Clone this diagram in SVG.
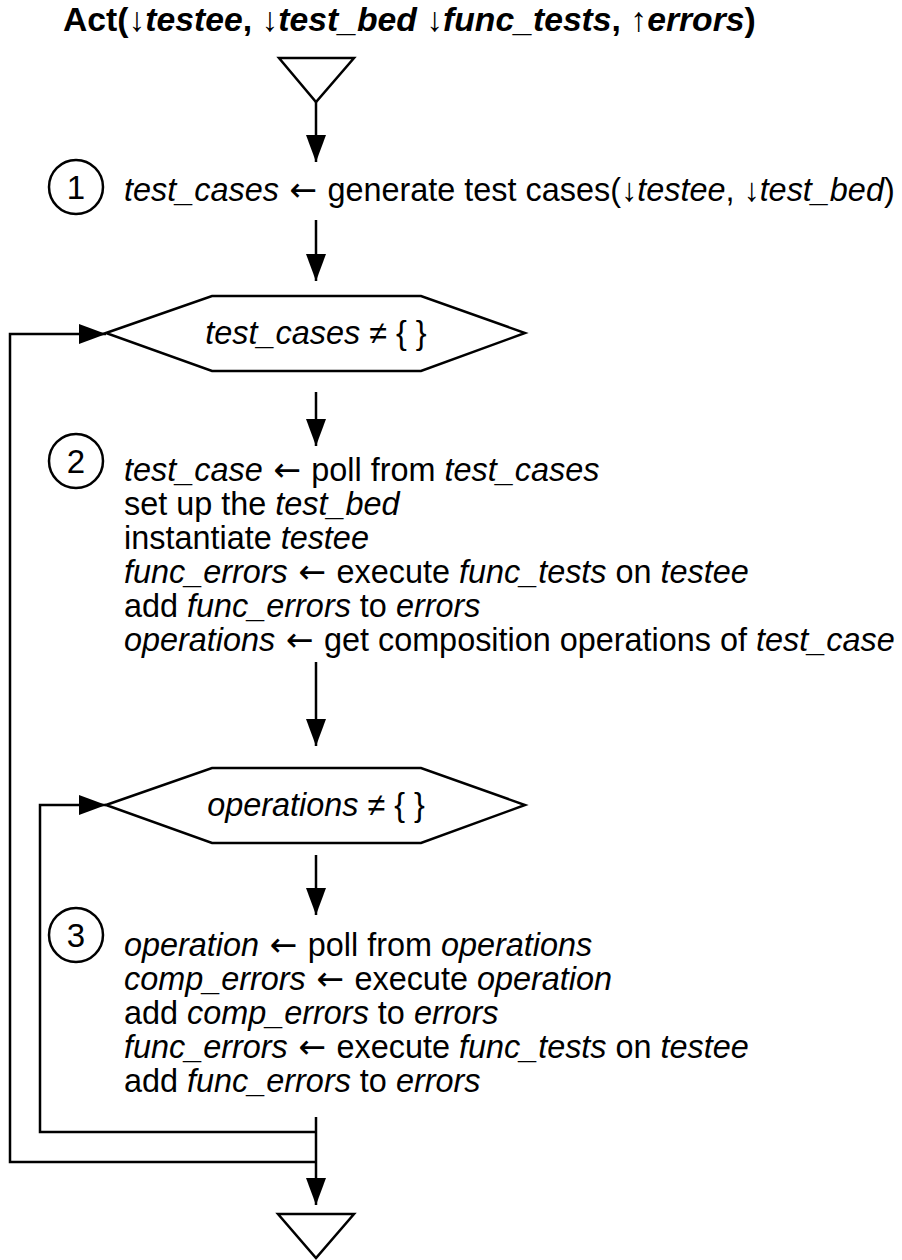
<svg xmlns="http://www.w3.org/2000/svg" width="902" height="1260" viewBox="0 0 902 1260">
  <style>
    .shape { fill: none; stroke: #000; stroke-width: 2.5; stroke-linejoin: miter; }
    .wire { fill: none; stroke: #000; stroke-width: 2.5; }
    .txt { font-family: "Liberation Sans", Arial, Helvetica, sans-serif; font-size: 32.4px; fill: #000; }
    .head { font-family: "Liberation Sans", Arial, Helvetica, sans-serif; font-size: 33.7px; font-weight: bold; fill: #000; }
    .num { font-family: "Liberation Sans", Arial, Helvetica, sans-serif; font-size: 33px; fill: #000; text-anchor: middle; }
    .i { font-style: italic; }
    /* assignment arrow between target and expression */
    .ar { font-family: "DejaVu Sans", sans-serif; font-size: 33px; font-style: normal; }
  </style>
  <defs>
    <marker id="arrow" markerUnits="userSpaceOnUse" markerWidth="28" markerHeight="22" refX="27" refY="10" orient="auto">
      <path d="M0,0 L27,10 L0,20 z" fill="#000"/>
    </marker>
  </defs>

  <!-- signature -->
  <g id="title">
    <text class="head" x="63" y="31">Act(↓<tspan class="i">testee</tspan>, ↓<tspan class="i">test_bed</tspan> ↓<tspan class="i">func_tests</tspan>, ↑<tspan class="i">errors</tspan>)</text>
  </g>

  <!-- entry terminal -->
  <g id="start">
    <polygon class="shape" points="279,58 354,58 316,102"/>
  </g>

  <!-- step 1 -->
  <g id="step1">
    <circle class="shape" cx="76" cy="187" r="27"/>
    <text class="num" x="76" y="199">1</text>
    <text class="txt" x="124" y="201"><tspan class="i">test_cases</tspan><tspan class="ar"> ← </tspan>generate test cases(↓<tspan class="i">testee</tspan>, ↓<tspan class="i">test_bed</tspan>)</text>
  </g>

  <!-- outer loop condition -->
  <g id="cond-test-cases">
    <polygon class="shape" points="106,333 212,296 421,296 525,333 421,371 212,371"/>
    <text class="txt" x="316" y="344" text-anchor="middle"><tspan class="i">test_cases</tspan> ≠ { }</text>
  </g>

  <!-- step 2 -->
  <g id="step2">
    <circle class="shape" cx="76" cy="461" r="27"/>
    <text class="num" x="76" y="473">2</text>
    <text class="txt" x="124" y="481"><tspan class="i">test_case</tspan><tspan class="ar"> ← </tspan>poll from <tspan class="i">test_cases</tspan></text>
    <text class="txt" x="124" y="515">set up the <tspan class="i">test_bed</tspan></text>
    <text class="txt" x="124" y="549">instantiate <tspan class="i">testee</tspan></text>
    <text class="txt" x="124" y="583"><tspan class="i">func_errors</tspan><tspan class="ar"> ← </tspan>execute <tspan class="i">func_tests</tspan> on <tspan class="i">testee</tspan></text>
    <text class="txt" x="124" y="617">add <tspan class="i">func_errors</tspan> to <tspan class="i">errors</tspan></text>
    <text class="txt" x="124" y="651"><tspan class="i">operations</tspan><tspan class="ar"> ← </tspan>get composition operations of <tspan class="i">test_case</tspan></text>
  </g>

  <!-- inner loop condition -->
  <g id="cond-operations">
    <polygon class="shape" points="106,805 212,768 421,768 525,805 421,843 212,843"/>
    <text class="txt" x="316" y="816" text-anchor="middle"><tspan class="i">operations</tspan> ≠ { }</text>
  </g>

  <!-- step 3 -->
  <g id="step3">
    <circle class="shape" cx="76" cy="935" r="27"/>
    <text class="num" x="76" y="947">3</text>
    <text class="txt" x="124" y="956"><tspan class="i">operation</tspan><tspan class="ar"> ← </tspan>poll from <tspan class="i">operations</tspan></text>
    <text class="txt" x="124" y="990"><tspan class="i">comp_errors</tspan><tspan class="ar"> ← </tspan>execute <tspan class="i">operation</tspan></text>
    <text class="txt" x="124" y="1024">add <tspan class="i">comp_errors</tspan> to <tspan class="i">errors</tspan></text>
    <text class="txt" x="124" y="1058"><tspan class="i">func_errors</tspan><tspan class="ar"> ← </tspan>execute <tspan class="i">func_tests</tspan> on <tspan class="i">testee</tspan></text>
    <text class="txt" x="124" y="1092">add <tspan class="i">func_errors</tspan> to <tspan class="i">errors</tspan></text>
  </g>

  <!-- exit terminal -->
  <g id="end">
    <polygon class="shape" points="278,1214 354,1214 316,1258"/>
  </g>

  <!-- connectors -->
  <g id="connectors">
    <line class="wire" x1="316" y1="102" x2="316" y2="162" marker-end="url(#arrow)"/>
    <line class="wire" x1="316" y1="220" x2="316" y2="281" marker-end="url(#arrow)"/>
    <line class="wire" x1="316" y1="392" x2="316" y2="446" marker-end="url(#arrow)"/>
    <line class="wire" x1="316" y1="662" x2="316" y2="746" marker-end="url(#arrow)"/>
    <line class="wire" x1="316" y1="855" x2="316" y2="915" marker-end="url(#arrow)"/>
    <polyline class="wire" points="316,1132 40,1132 40,805 106,805" marker-end="url(#arrow)"/>
    <polyline class="wire" points="316,1162 10,1162 10,334 106,334" marker-end="url(#arrow)"/>
    <line class="wire" x1="316" y1="1117" x2="316" y2="1205" marker-end="url(#arrow)"/>
  </g>
</svg>
